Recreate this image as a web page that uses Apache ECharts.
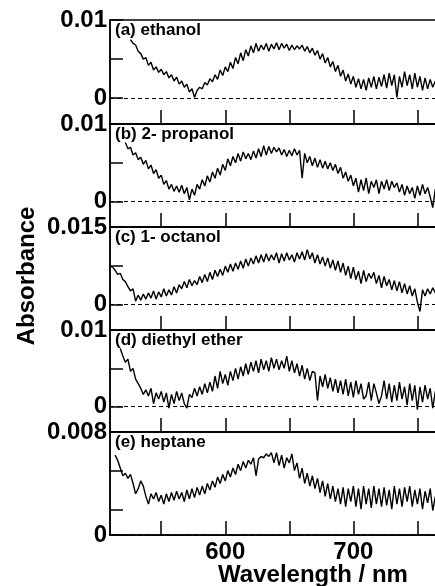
<!DOCTYPE html>
<html>
<head>
<meta charset="utf-8">
<title>Absorbance spectra in five solvents</title>
<script src="https://cdn.jsdelivr.net/npm/echarts@6/dist/echarts.min.js"></script>
<style>
  html, body { margin: 0; padding: 0; background: #fff; }
  #chart { width: 435px; height: 586px; }
</style>
</head>
<body>
<div id="chart"></div>
<script>
// Wavelength grid (nm) shared by all five spectra
const wavelength = [
  510,512,514,516,518,520,522,524,526,528,
  530,532,534,536,538,540,542,544,546,548,
  550,552,554,556,558,560,562,564,566,568,
  570,572,574,576,578,580,582,584,586,588,
  590,592,594,596,598,600,602,604,606,608,
  610,612,614,616,618,620,622,624,626,628,
  630,632,634,636,638,640,642,644,646,648,
  650,652,654,656,658,660,662,664,666,668,
  670,672,674,676,678,680,682,684,686,688,
  690,692,694,696,698,700,702,704,706,708,
  710,712,714,716,718,720,722,724,726,728,
  730,732,734,736,738,740,742,744,746,748,
  750,752,754,756,758,760,762,764,766
];

// Absorbance, one value per wavelength (null = not measured)
const ethanol = [
  null,null,null,null,null,null,null,null,.0075,.0070,
  .0068,.0060,.0057,.0050,.0052,.0042,.0046,.0036,.0040,.0033,
  .0037,.0030,.0034,.0026,.0030,.0022,.0027,.0018,.0022,.0014,
  .0018,.0008,.0012,.0001,.0010,.0014,.0012,.0020,.0017,.0025,
  .0021,.0030,.0024,.0036,.0029,.0040,.0034,.0046,.0038,.0052,
  .0044,.0058,.0048,.0062,.0054,.0067,.0058,.0070,.0060,.0068,
  .0062,.0070,.0060,.0069,.0063,.0071,.0062,.0070,.0064,.0069,
  .0061,.0068,.0062,.0067,.0063,.0068,.0060,.0066,.0058,.0064,
  .0055,.0061,.0050,.0057,.0045,.0052,.0040,.0047,.0034,.0042,
  .0028,.0036,.0022,.0031,.0018,.0028,.0014,.0025,.0012,.0024,
  .0010,.0026,.0014,.0028,.0012,.0027,.0015,.0030,.0013,.0032,
  .0016,.0030,.0001,.0028,.0014,.0034,.0016,.0030,.0012,.0032,
  .0014,.0028,.0010,.0026,.0012,.0024,.0014,.0022,.0016
];

const propanol = [
  null,null,null,null,null,null,.0076,.0068,.0070,.0060,
  .0063,.0054,.0057,.0048,.0053,.0042,.0047,.0036,.0041,.0030,
  .0034,.0022,.0027,.0016,.0022,.0013,.0020,.0012,.0021,.0010,
  .0018,.0002,.0016,.0008,.0022,.0016,.0028,.0020,.0033,.0025,
  .0038,.0030,.0043,.0034,.0048,.0040,.0055,.0046,.0058,.0050,
  .0062,.0052,.0064,.0055,.0062,.0054,.0065,.0056,.0068,.0058,
  .0072,.0060,.0071,.0062,.0070,.0064,.0069,.0060,.0067,.0058,
  .0066,.0059,.0068,.0060,.0066,.0030,.0062,.0050,.0058,.0046,
  .0056,.0044,.0054,.0043,.0052,.0042,.0050,.0040,.0048,.0036,
  .0044,.0030,.0038,.0026,.0034,.0020,.0030,.0012,.0028,.0014,
  .0030,.0010,.0026,.0018,.0028,.0010,.0026,.0016,.0028,.0014,
  .0026,.0018,.0024,.0012,.0022,.0008,.0020,.0010,.0018,.0004,
  .0020,.0008,.0022,.0010,.0018,.0006,-.0008,.0016,.0010
];

const octanol = [
  .0074,.0072,.0066,.0058,.0060,.0048,.0044,.0034,.0026,.0030,
  .0006,.0018,.0008,.0020,.0010,.0022,.0012,.0026,.0010,.0024,
  .0014,.0030,.0016,.0028,.0018,.0034,.0022,.0038,.0030,.0044,
  .0032,.0048,.0036,.0046,.0038,.0054,.0042,.0058,.0044,.0062,
  .0048,.0066,.0054,.0068,.0056,.0074,.0062,.0078,.0064,.0080,
  .0068,.0084,.0070,.0088,.0074,.0090,.0078,.0094,.0080,.0096,
  .0082,.0098,.0084,.0096,.0086,.0100,.0080,.0098,.0084,.0100,
  .0086,.0096,.0082,.0100,.0088,.0102,.0086,.0106,.0088,.0100,
  .0080,.0096,.0078,.0092,.0074,.0090,.0070,.0086,.0066,.0084,
  .0062,.0080,.0056,.0074,.0050,.0072,.0048,.0064,.0040,.0066,
  .0044,.0060,.0050,.0062,.0040,.0056,.0032,.0054,.0036,.0048,
  .0028,.0046,.0026,.0044,.0022,.0040,.0020,.0036,.0016,.0030,
  .0004,-.0014,.0028,.0016,.0030,.0020,.0032,.0022,.0028
];

const diethylEther = [
  null,null,null,null,.0076,.0066,.0058,.0062,.0046,.0050,
  .0036,.0030,.0024,.0016,.0022,.0014,.0024,.0004,.0018,.0010,
  .0020,.0006,.0018,-.0002,.0016,.0004,.0020,.0008,.0018,.0004,
  -.0002,.0016,.0012,.0024,.0014,.0026,.0016,.0030,.0018,.0032,
  .0020,.0040,.0024,.0046,.0030,.0042,.0028,.0046,.0034,.0050,
  .0036,.0052,.0040,.0056,.0042,.0058,.0046,.0060,.0044,.0062,
  .0048,.0060,.0046,.0064,.0050,.0062,.0048,.0060,.0050,.0066,
  .0046,.0060,.0044,.0056,.0040,.0054,.0036,.0050,.0034,.0046,
  .0044,.0008,.0040,.0026,.0042,.0024,.0038,.0020,.0036,.0018,
  .0034,.0016,.0036,.0014,.0032,.0012,.0034,.0016,.0030,.0010,
  .0014,.0032,.0008,.0030,.0018,.0004,.0014,.0034,.0010,.0030,
  .0006,.0028,.0008,.0032,.0010,.0026,.0002,.0030,.0008,.0028,
  -.0004,.0026,.0006,.0028,.0010,.0024,-.0002,.0020,.0012
];

const heptane = [
  null,null,.0062,.0058,.0052,.0046,.0048,.0044,.0047,.0040,
  .0032,.0036,.0042,.0038,.0030,.0024,.0032,.0028,.0033,.0026,
  .0031,.0024,.0032,.0026,.0033,.0027,.0034,.0028,.0033,.0026,
  .0035,.0028,.0036,.0029,.0037,.0031,.0038,.0032,.0040,.0035,
  .0042,.0037,.0045,.0040,.0047,.0042,.0050,.0045,.0052,.0047,
  .0055,.0050,.0057,.0052,.0058,.0055,.0060,.0046,.0059,.0061,
  .0060,.0063,.0061,.0064,.0056,.0064,.0054,.0062,.0052,.0060,
  .0056,.0063,.0050,.0056,.0044,.0052,.0040,.0048,.0038,.0046,
  .0036,.0044,.0033,.0042,.0030,.0040,.0028,.0038,.0026,.0036,
  .0024,.0037,.0022,.0036,.0026,.0038,.0022,.0036,.0020,.0038,
  .0024,.0036,.0021,.0038,.0024,.0036,.0022,.0037,.0023,.0035,
  .0020,.0038,.0024,.0036,.0022,.0037,.0026,.0038,.0022,.0035,
  .0024,.0036,.0020,.0034,.0025,.0036,.0019,.0030,.0024
];

const panelNames = ['(a) ethanol', '(b) 2- propanol', '(c) 1- octanol', '(d) diethyl ether', '(e) heptane'];
const spectra = [ethanol, propanol, octanol, diethylEther, heptane];

// Vertical range of each panel
const yMin = [-0.0033, -0.0033, -0.005, -0.0033, 0];
const yMax = [0.01, 0.01, 0.015, 0.01, 0.008];
const yLabelValues = [[0, 0.01], [0, 0.01], [0, 0.015], [0, 0.01], [0, 0.008]];
const yTickValues = [[0, 0.005, 0.01], [0, 0.005, 0.01], [0, 0.0075, 0.015], [0, 0.005, 0.01], [0, 0.002, 0.005, 0.008]];
const baselines = [0, 0, 0, 0, 0.002];

// Horizontal axis
const xMin = 510;
const xMax = 770;
const xTickValues = [550, 600, 650, 700, 750];
const xLabelValues = [600, 700];

const FONT = '"Liberation Sans", Arial, Helvetica, sans-serif';

// Panel frames (top and bottom edges in px); the plot runs past the right edge of the page
const panelTop = [20, 124, 227, 330, 432];
const panelBottom = [124, 227, 330, 432, 535];

const grids = [], xAxes = [], yAxes = [], series = [], graphics = [];

panelNames.forEach((name, i) => {
  grids.push({
    left: 110,
    top: panelTop[i],
    width: 333,
    height: panelBottom[i] - panelTop[i],
    outerBoundsMode: 'none',
    containLabel: false,
    show: true,
    borderColor: '#000',
    borderWidth: 1.5,
    backgroundColor: 'transparent'
  });

  xAxes.push({
    gridIndex: i,
    type: 'value',
    min: xMin,
    max: xMax,
    axisLine: { show: true, onZero: false, lineStyle: { color: '#000', width: 1.5 } },
    axisTick: { show: true, inside: true, length: 14, customValues: xTickValues,
                lineStyle: { color: '#000', width: 1.5 } },
    axisLabel: { show: i === 4, customValues: xLabelValues, margin: 5,
                 color: '#000', fontSize: 24, fontWeight: 'bold', fontFamily: FONT },
    splitLine: { show: false }
  });

  yAxes.push({
    gridIndex: i,
    type: 'value',
    min: yMin[i],
    max: yMax[i],
    axisLine: { show: true, lineStyle: { color: '#000', width: 1.5 } },
    axisTick: { show: true, inside: true, length: 13, customValues: yTickValues[i],
                lineStyle: { color: '#000', width: 1.5 } },
    axisLabel: { show: true, customValues: yLabelValues[i], margin: 3,
                 color: '#000', fontSize: 24, fontWeight: 'bold', fontFamily: FONT,
                 formatter: v => String(v) },
    splitLine: { show: false }
  });

  const pts = [];
  wavelength.forEach((w, k) => {
    if (spectra[i][k] !== null) pts.push([w, spectra[i][k]]);
  });

  series.push({
    type: 'line',
    xAxisIndex: i,
    yAxisIndex: i,
    data: pts,
    symbol: 'none',
    showSymbol: false,
    smooth: false,
    lineStyle: { color: '#000', width: 1.4 },
    markLine: {
      silent: true,
      symbol: ['none', 'none'],
      label: { show: false },
      lineStyle: { color: '#000', width: 1, type: [4, 3] },
      data: [{ yAxis: baselines[i] }]
    }
  });

  graphics.push({
    type: 'text',
    x: 115,
    y: panelTop[i] + 2,
    style: { text: name, fill: '#000', font: 'bold 17px ' + FONT, align: 'left', verticalAlign: 'top' }
  });
});

graphics.push({
  type: 'text',
  x: 27,
  y: 276,
  rotation: Math.PI / 2,
  style: { text: 'Absorbance', fill: '#000', font: 'bold 24px ' + FONT, align: 'center', verticalAlign: 'middle' }
});

graphics.push({
  type: 'text',
  x: 313,
  y: 575,
  style: { text: 'Wavelength / nm', fill: '#000', font: 'bold 24px ' + FONT, align: 'center', verticalAlign: 'middle' }
});

const chart = echarts.init(document.getElementById('chart'), null, { renderer: 'canvas' });
chart.setOption({
  animation: false,
  backgroundColor: '#fff',
  grid: grids,
  xAxis: xAxes,
  yAxis: yAxes,
  series: series,
  graphic: graphics
});
</script>
</body>
</html>
